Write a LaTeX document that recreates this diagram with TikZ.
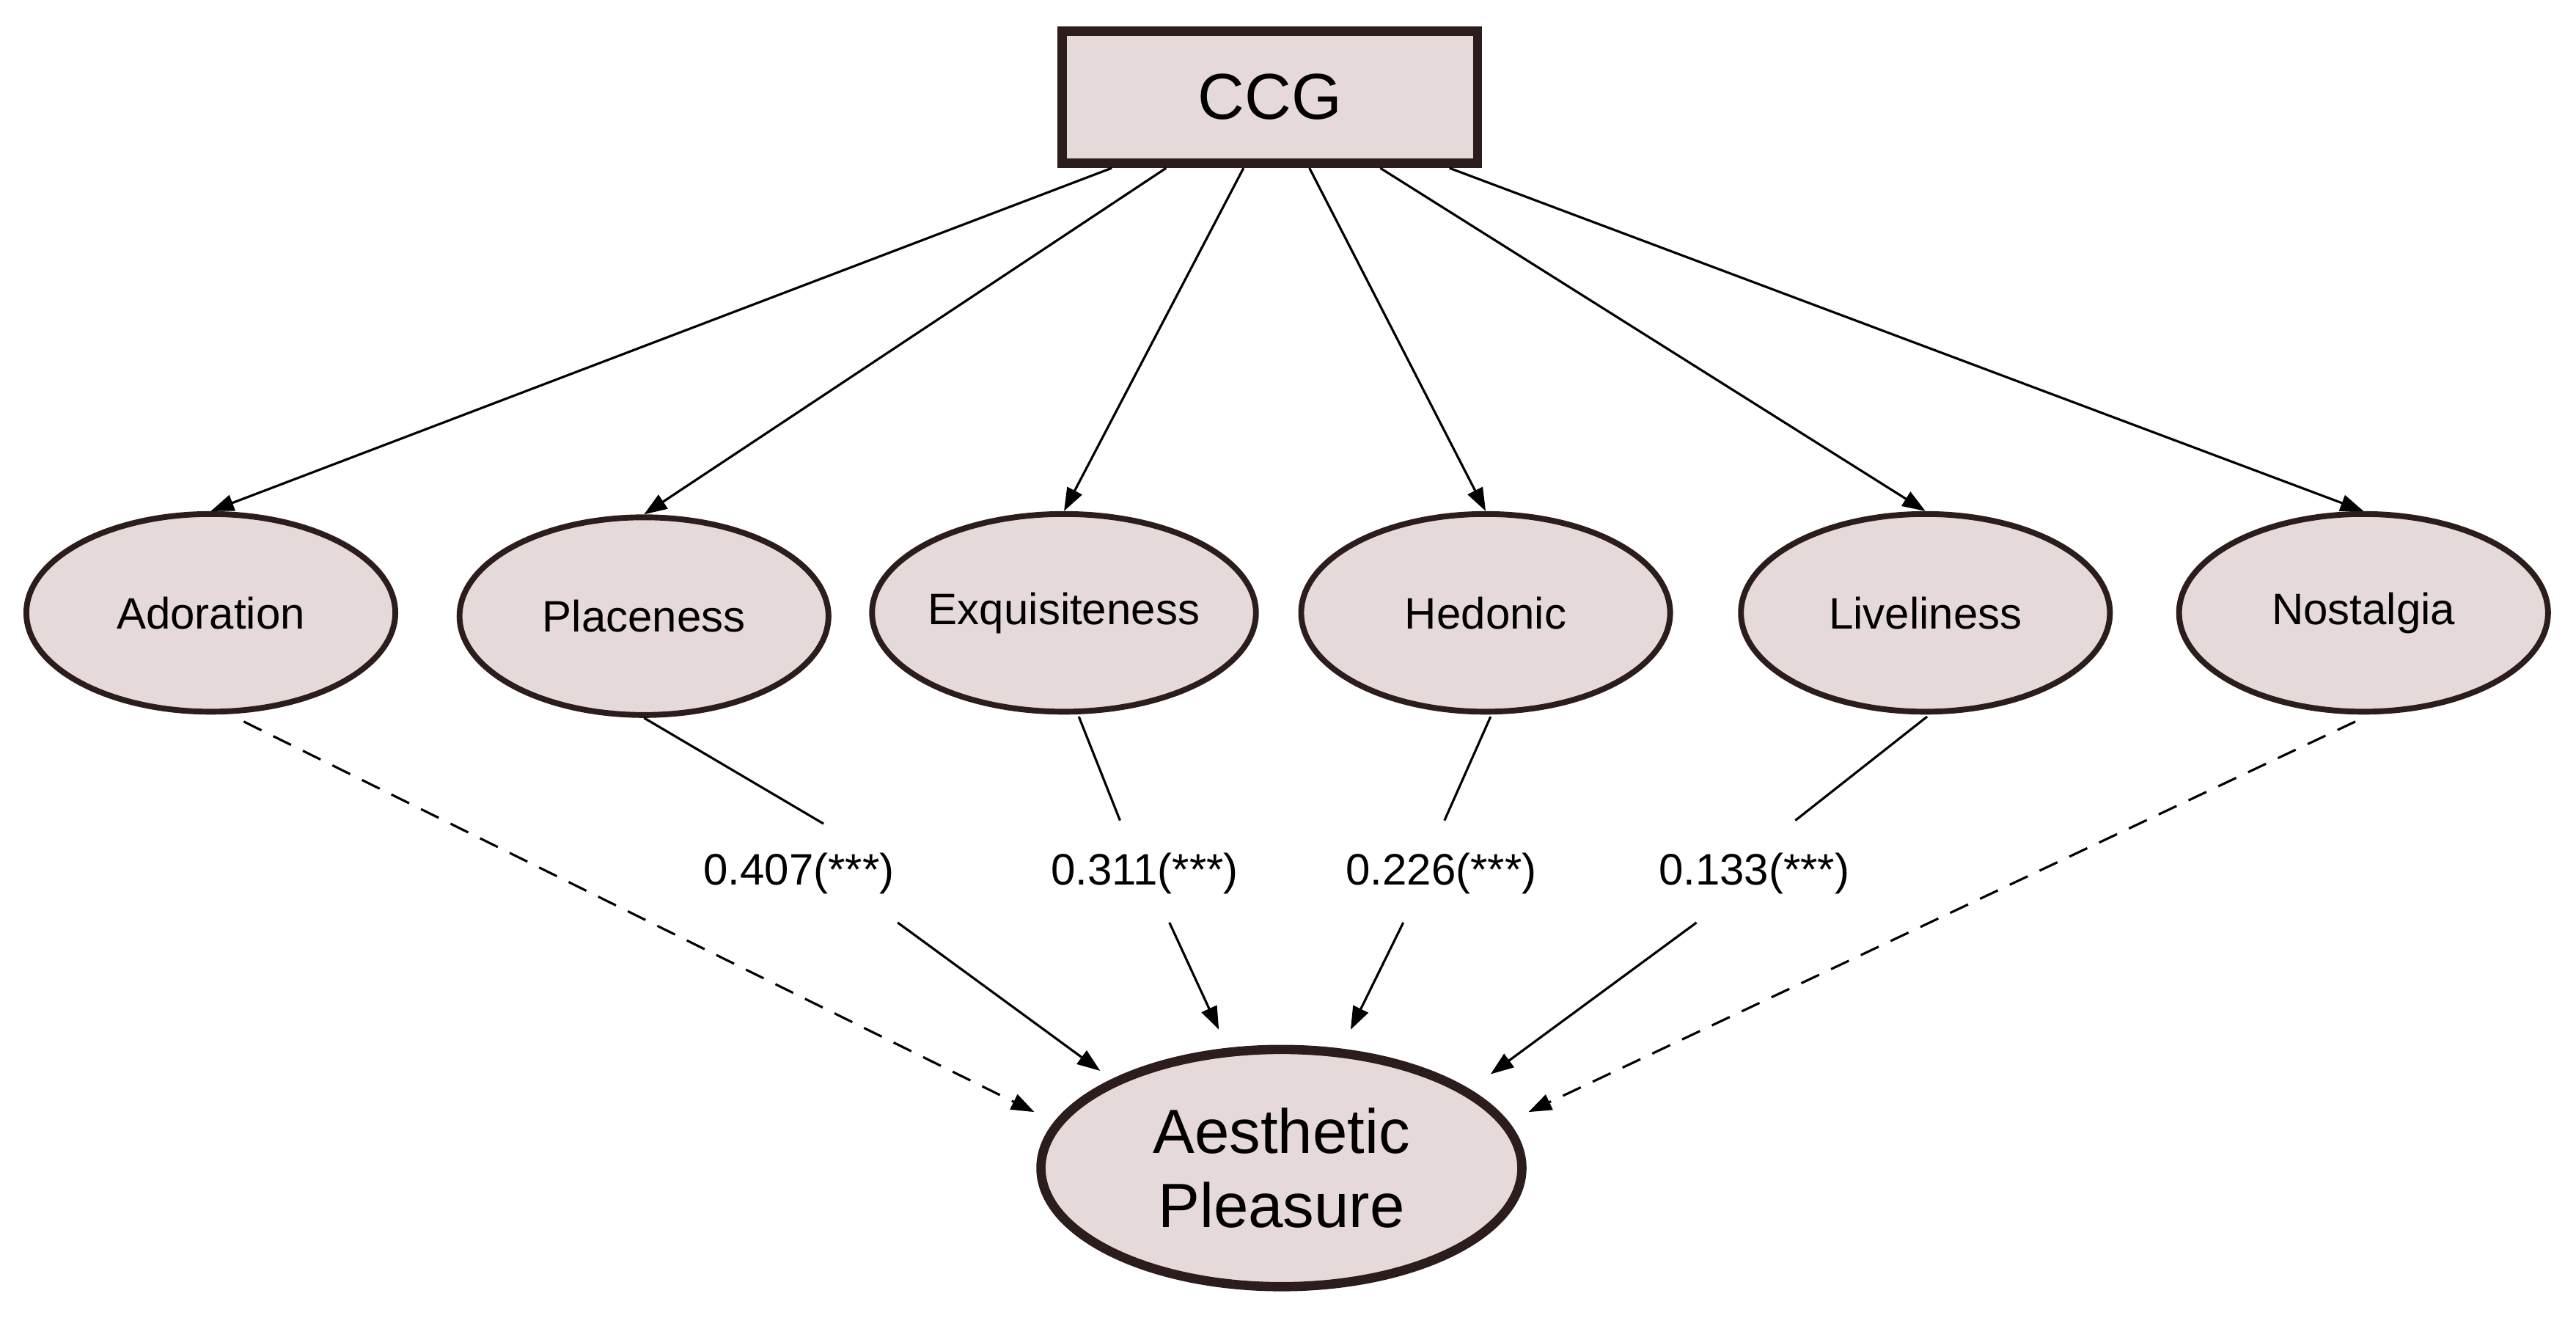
\documentclass[tikz,border=0pt]{standalone}
\usepackage{fontspec}
\setmainfont{Liberation Sans}
\usetikzlibrary{shapes.geometric,arrows.meta}
\definecolor{fillc}{HTML}{E5D9D9}
\definecolor{edge}{HTML}{2B1D1B}
\begin{document}
\begin{tikzpicture}[x=0.5mm,y=-0.5mm,
  lat/.style={ellipse,draw=edge,fill=fillc,line width=5pt,minimum width=112mm,minimum height=60mm,inner sep=0pt,font=\fontsize{38}{40}\selectfont},
  conn/.style={line width=2pt,-{Triangle[length=7mm,width=5mm]}},
  seg/.style={line width=2pt},
  lab/.style={font=\fontsize{38}{40}\selectfont,inner sep=2pt}]
\useasboundingbox (0,0) rectangle (1564,800);
\node[draw=edge,fill=fillc,line width=8pt,minimum width=126mm,minimum height=40mm,font=\fontsize{56}{60}\selectfont] (CCG) at (771,59) {CCG};
\node[lat] (Ad) at (128,372) {Adoration};
\node[lat] (Pl) at (391,374) {Placeness};
\node[lat] (Ex) at (646,372) {Exquisiteness};
\node[lat] (He) at (902,372) {Hedonic};
\node[lat] (Li) at (1169,372) {Liveliness};
\node[lat] (No) at (1435,372) {Nostalgia};
\node[ellipse,draw=edge,fill=fillc,line width=8pt,minimum width=146mm,minimum height=72mm,inner sep=0pt,align=center,font=\fontsize{54}{64}\selectfont] (AP) at (778,709) {Aesthetic\\Pleasure};
\coordinate (c1) at (675,102); \coordinate (c2) at (708,102); \coordinate (c3) at (755,102);
\coordinate (c4) at (795,102); \coordinate (c5) at (838,102); \coordinate (c6) at (880,102);
\draw[conn] (c1) -- (Ad.north);
\draw[conn] (c2) -- (Pl.north);
\draw[conn] (c3) -- (Ex.north);
\draw[conn] (c4) -- (He.north);
\draw[conn] (c5) -- (Li.north);
\draw[conn] (c6) -- (No.north);
\node[lab] (l1) at (485,530) {0.407(***)};
\node[lab] (l2) at (695,530) {0.311(***)};
\node[lab] (l3) at (875,530) {0.226(***)};
\node[lab] (l4) at (1065,530) {0.133(***)};
\coordinate (e1) at (668,650); \coordinate (e2) at (740,625);
\coordinate (e3) at (820,625); \coordinate (e4) at (905,652);
\coordinate (e5) at (628,675); \coordinate (e6) at (928,675);
\draw[seg] (Pl.south) -- (500,500); \draw[conn] (545,560) -- (e1);
\draw[seg] (655,435) -- (680,498); \draw[conn] (710,560) -- (e2);
\draw[seg] (905,435) -- (877,498); \draw[conn] (852,560) -- (e3);
\draw[seg] (1170,435) -- (1090,498); \draw[conn] (1030,560) -- (e4);
\draw[conn,dash pattern=on 6mm off 4mm] (148,438) -- (e5);
\draw[conn,dash pattern=on 6mm off 4mm] (1430,438) -- (e6);
\end{tikzpicture}
\end{document}
